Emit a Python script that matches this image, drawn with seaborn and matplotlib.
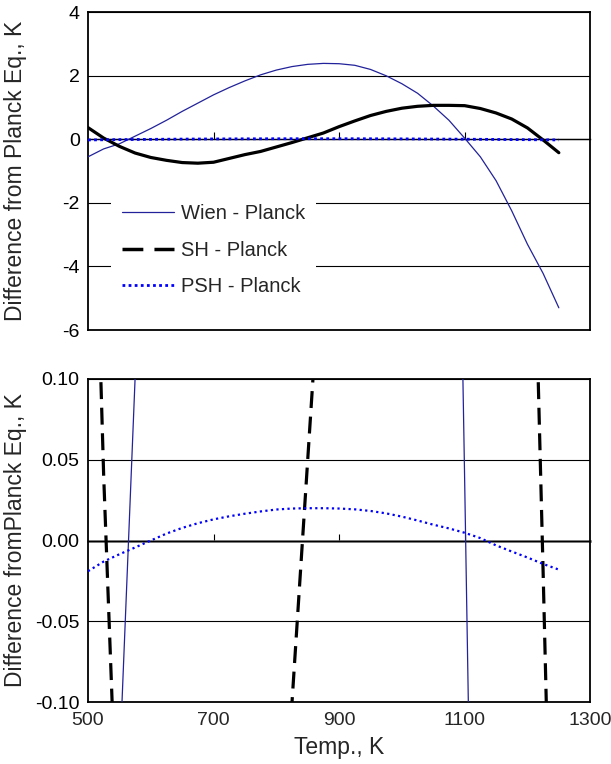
import numpy as np
import pandas as pd
import matplotlib
matplotlib.use("Agg")
import matplotlib.pyplot as plt
import seaborn as sns
from matplotlib.lines import Line2D

sns.set_style("white")
plt.rcParams['font.family'] = ['Liberation Sans', 'DejaVu Sans']
plt.rcParams['axes.unicode_minus'] = False

# ---- data ----
temp = [500, 525, 550, 575, 600, 625, 650, 675, 700, 725, 750, 775, 800, 825,
        850, 875, 900, 925, 950, 975, 1000, 1025, 1050, 1075, 1100, 1125, 1150,
        1175, 1200, 1225, 1250]
wien = [-0.55, -0.30, -0.14, 0.10, 0.34, 0.60, 0.88, 1.14, 1.40, 1.63, 1.84,
        2.03, 2.18, 2.29, 2.36, 2.39, 2.38, 2.33, 2.20, 2.00, 1.75, 1.45, 1.05,
        0.60, 0.037, -0.55, -1.30, -2.25, -3.30, -4.22, -5.30]
sh = [0.37, 0.04, -0.22, -0.43, -0.57, -0.66, -0.73, -0.75, -0.72, -0.60,
      -0.48, -0.38, -0.24, -0.10, 0.05, 0.20, 0.40, 0.58, 0.75, 0.88, 0.98,
      1.04, 1.07, 1.07, 1.06, 0.97, 0.83, 0.64, 0.36, -0.02, -0.42]
psh = [-0.019, -0.013, -0.0085, -0.0043, 0.0000, 0.0043, 0.0078, 0.0107,
       0.0131, 0.0150, 0.0166, 0.0180, 0.0192, 0.0198, 0.0200, 0.0200, 0.0198,
       0.0193, 0.0183, 0.0168, 0.0148, 0.0124, 0.0098, 0.0075, 0.0048, 0.0015,
       -0.0030, -0.0068, -0.0105, -0.0145, -0.0180]

series_labels = ["Wien - Planck", "SH - Planck", "PSH - Planck"]
x_ticks = [500, 700, 900, 1100, 1300]
top_yticks = [-6, -4, -2, 0, 2, 4]
bot_yticks = [-0.10, -0.05, 0.00, 0.05, 0.10]
bot_yticklabels = ["-0.10", "-0.05", "0.00", "0.05", "0.10"]

df = pd.DataFrame({"T": temp, "wien": wien, "sh": sh, "psh": psh})

WIEN_C = "#22229a"
PSH_C = "#0000ff"
SH_C = "black"
FS = 14
LFS = 16.5

fig = plt.figure(figsize=(6.11, 7.64), dpi=100)
ax1 = fig.add_axes([0.144, 0.568, 0.822, 0.416])
ax2 = fig.add_axes([0.144, 0.081, 0.822, 0.423])

# top panel
sns.lineplot(data=df, x="T", y="wien", ax=ax1, color=WIEN_C, lw=0.9, zorder=3)
sns.lineplot(data=df, x="T", y="sh", ax=ax1, color=SH_C, lw=2.3, zorder=3)
sns.lineplot(data=df, x="T", y="psh", ax=ax1, color=PSH_C, lw=2.0,
             linestyle=(0, (1, 1.2)), zorder=4)

# bottom panel
sns.lineplot(data=df, x="T", y="wien", ax=ax2, color=WIEN_C, lw=0.9, zorder=3)
sns.lineplot(data=df, x="T", y="sh", ax=ax2, color=SH_C, lw=2.3,
             linestyle=(0, (5.3, 2.7)), zorder=3)
sns.lineplot(data=df, x="T", y="psh", ax=ax2, color=PSH_C, lw=1.6,
             linestyle=(0, (1, 1.5)), zorder=4)

for ax, yt, ylim, zero_frac, zcol, zlw in [
        (ax1, top_yticks, (-6, 4), 0.6, "black", 1.0),
        (ax2, bot_yticks, (-0.10, 0.10), 0.5, "#5a5a5a", 1.8)]:
    ax.set_xlim(500, 1300)
    ax.set_ylim(*ylim)
    ax.set_yticks(yt)
    ax.yaxis.grid(True, color="black", lw=0.8)
    ax.xaxis.grid(False)
    for s in ax.spines.values():
        s.set_color("black")
        s.set_linewidth(1.3)
        s.set_visible(True)
    ax.tick_params(axis="y", direction="out", length=0, labelsize=FS,
                   colors="black", pad=6)
    ax.set_xlabel("")
    sec = ax.secondary_xaxis(zero_frac)
    sec.set_xticks([700, 900, 1100], labels=["", "", ""])
    sec.tick_params(axis="x", which="both", direction="out", length=5,
                    width=0.8, colors="black", labeltop=False,
                    labelbottom=False)
    for s in sec.spines.values():
        s.set_color(zcol)
        s.set_linewidth(zlw)

ax1.set_xticks(x_ticks)
ax1.tick_params(axis="x", length=0, labelbottom=False)
ax1.set_yticklabels([str(v) for v in top_yticks])
ax1.set_ylabel("Difference from Planck Eq., K", fontsize=LFS)
ax1.yaxis.set_label_coords(-0.122, 0.5)

ax2.set_xticks(x_ticks)
ax2.set_xticklabels([str(v) for v in x_ticks])
ax2.tick_params(axis="x", length=0, labelsize=FS, pad=7)
ax2.set_yticklabels(bot_yticklabels)
ax2.set_ylabel("Difference fromPlanck Eq., K", fontsize=LFS)
ax2.yaxis.set_label_coords(-0.122, 0.5)
ax2.set_xlabel("Temp., K", fontsize=LFS, labelpad=5)

handles = [
    Line2D([], [], color=WIEN_C, lw=0.9),
    Line2D([], [], color=SH_C, lw=2.5, linestyle=(0, (6, 3.2))),
    Line2D([], [], color=PSH_C, lw=2.0, linestyle=(0, (1, 1.2))),
]
leg = ax1.legend(handles, series_labels, loc="upper left",
                 bbox_to_anchor=(0.03, 0.43), fontsize=FS + 0.5, frameon=True,
                 facecolor="white", edgecolor="none", framealpha=1.0,
                 handlelength=2.6, handletextpad=0.35, labelspacing=0.85,
                 borderaxespad=0, borderpad=0.55)
leg.set_zorder(5)
leg.get_frame().set_boxstyle("square", pad=0)
fig.canvas.draw()
# shift the legend slightly right while keeping box position
leg.set_bbox_to_anchor((0.045, 0.43), transform=ax1.transAxes)

fig.savefig("out.png", dpi=100)
